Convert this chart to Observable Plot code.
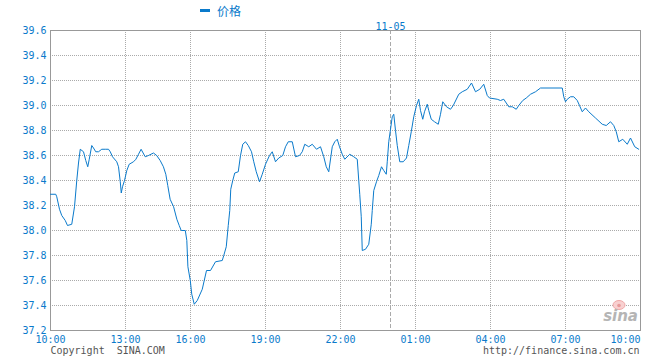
<!DOCTYPE html>
<html>
<head>
<meta charset="utf-8">
<script src="https://cdn.jsdelivr.net/npm/d3@7"></script>
<script src="https://cdn.jsdelivr.net/npm/@observablehq/plot@0.6"></script>
<style>
  html, body { margin: 0; padding: 0; background: #fff; }
</style>
</head>
<body>
<div id="chart"></div>
<script>
// Hours since 10:00 (first day) and price
const hours = [0,0.21,0.25,0.36,0.45,0.59,0.68,0.85,0.96,1.05,1.12,1.19,1.32,1.41,1.49,1.55,1.65,1.72,1.81,1.92,2.05,2.19,2.32,2.39,2.48,2.65,2.72,2.79,2.83,2.88,2.96,
3.06,3.17,3.37,3.48,3.60,3.72,3.91,4.06,4.29,4.44,4.60,4.75,4.86,4.95,5.06,5.22,5.37,5.48,5.57,5.76,5.83,5.88,5.99,
6.05,6.15,6.27,6.47,6.64,6.80,7.00,7.27,7.33,7.43,7.51,7.57,7.61,7.69,7.77,7.91,8.00,8.09,8.20,8.31,8.44,8.53,8.63,8.76,8.87,9.00,9.16,9.27,9.40,9.53,9.69,9.80,9.91,10.07,10.20,10.36,10.47,10.57,10.73,10.87,11.04,11.20,11.33,11.43,11.53,11.67,11.77,11.87,11.96,12.07,12.17,12.37,12.53,12.67,12.73,12.77,12.83,12.87,13.00,13.13,13.23,13.27,13.33,13.44,13.53,13.64,13.73,13.83,13.87,13.93,14.00,14.07,14.13,14.20,14.27,14.37,14.51,14.64,14.73,14.83,14.93,15.04,15.13,15.20,15.29,15.36,15.47,15.53,15.63,15.76,15.91,16.00,16.09,16.24,16.40,16.51,16.73,16.87,17.07,17.24,17.40,17.57,17.73,17.87,17.96,18.27,18.40,18.53,18.63,18.73,18.87,19.03,19.13,19.29,19.43,19.60,19.80,20.00,20.87,20.93,21.00,21.07,21.20,21.33,21.47,21.56,21.67,21.80,21.93,22.20,22.47,22.63,22.80,22.93,23.03,23.13,23.29,23.47,23.60,23.77,23.93];
const prices = [38.29,38.29,38.27,38.17,38.12,38.08,38.04,38.05,38.19,38.40,38.54,38.65,38.63,38.56,38.51,38.57,38.68,38.66,38.63,38.63,38.65,38.65,38.65,38.63,38.59,38.55,38.51,38.39,38.30,38.35,38.40,
38.48,38.53,38.55,38.57,38.61,38.65,38.59,38.60,38.62,38.60,38.56,38.51,38.45,38.36,38.25,38.19,38.09,38.04,38.00,38.00,37.92,37.71,37.60,
37.49,37.41,37.44,37.53,37.68,37.68,37.75,37.76,37.80,37.87,38.04,38.16,38.33,38.40,38.46,38.47,38.60,38.69,38.71,38.68,38.63,38.55,38.47,38.39,38.45,38.53,38.60,38.63,38.55,38.58,38.60,38.67,38.71,38.71,38.59,38.60,38.63,38.69,38.67,38.69,38.65,38.67,38.59,38.51,38.47,38.67,38.71,38.73,38.67,38.61,38.57,38.61,38.59,38.57,38.40,38.29,38.11,37.84,37.85,37.89,38.05,38.16,38.32,38.39,38.44,38.51,38.48,38.45,38.55,38.71,38.81,38.91,38.93,38.80,38.68,38.55,38.55,38.58,38.68,38.79,38.91,39.00,39.05,38.96,38.89,38.95,39.01,38.96,38.89,38.87,38.85,38.93,39.03,38.99,38.97,39.00,39.09,39.11,39.13,39.18,39.11,39.13,39.17,39.08,39.06,39.05,39.04,39.05,39.02,38.99,38.99,38.97,39.00,39.04,39.06,39.09,39.11,39.14,39.14,39.07,39.03,39.05,39.07,39.07,39.04,39.00,38.95,38.98,38.95,38.90,38.85,38.84,38.87,38.84,38.79,38.71,38.73,38.69,38.74,38.67,38.65];

const tickHours = [0, 3, 6, 9, 12, 15, 18, 21, 24];
const tickLabels = ["10:00","13:00","16:00","19:00","22:00","01:00","04:00","07:00","10:00"];
const yTicks = [37.2, 37.4, 37.6, 37.8, 38.0, 38.2, 38.4, 38.6, 38.8, 39.0, 39.2, 39.4, 39.6];
const dayBreak = [14];
const dayLabel = "11-05";
const seriesName = "价格";
const copyrightText = "Copyright  SINA.COM";
const urlText = "http://finance.sina.com.cn";

const data = hours.map((h, i) => ({h, p: prices[i]}));
const BLUE = "#0a7acb";
const GRID = "#aaaaaa";
const labelOf = d => tickLabels[tickHours.indexOf(d)];

function legendMark() {
  const g = d3.create("svg:g");
  g.append("rect").attr("x", 200).attr("y", 9).attr("width", 10).attr("height", 3).attr("fill", BLUE);
  g.append("text").attr("x", 217).attr("y", 12).attr("dy", "0.35em").attr("text-anchor", "start")
    .attr("fill", BLUE).attr("font-size", 12).attr("font-family", "'Noto Sans CJK SC', sans-serif")
    .text(seriesName);
  return g.node();
}

function sinaMark() {
  const g = d3.create("svg:g");
  g.append("ellipse").attr("cx", 619).attr("cy", 305).attr("rx", 6).attr("ry", 4.5)
    .attr("fill", "#f8d0d0").attr("stroke", "#f0a8a8").attr("stroke-width", 1);
  g.append("circle").attr("cx", 619).attr("cy", 305.5).attr("r", 1.8).attr("fill", "#e89a9a");
  g.append("text").attr("x", 638).attr("y", 321).attr("text-anchor", "end")
    .attr("fill", "#b5b5b5").attr("font-size", 15).attr("font-weight", "bold")
    .attr("font-style", "italic").attr("font-family", "'DejaVu Sans', sans-serif")
    .text("sina");
  return g.node();
}

const chart = Plot.plot({
  width: 660,
  height: 360,
  marginLeft: 50,
  marginRight: 20,
  marginTop: 30,
  marginBottom: 30,
  style: {fontFamily: "'DejaVu Sans Mono', monospace", fontSize: "10px", background: "#fff"},
  x: {type: "linear", domain: [0, 3, 6, 24], range: [50, 125, 190, 640], axis: null},
  y: {domain: [37.2, 39.6], axis: null},
  marks: [
    Plot.gridY(yTicks.slice(1, -1), {stroke: GRID, strokeOpacity: 1, strokeDasharray: "1,1"}),
    Plot.gridX(tickHours.slice(1, -1), {stroke: GRID, strokeOpacity: 1, strokeDasharray: "1,1"}),
    Plot.ruleX(dayBreak, {stroke: GRID, strokeOpacity: 1, strokeDasharray: "4,2"}),
    sinaMark,
    Plot.frame({stroke: "#999"}),
    Plot.line(data, {x: "h", y: "p", stroke: BLUE, strokeWidth: 1}),
    Plot.axisY(yTicks, {tickSize: 0, tickPadding: 4, tickFormat: d => d.toFixed(1), fill: BLUE, fontSize: 10, label: null}),
    Plot.text(tickHours.slice(0, -1), {x: d => d, frameAnchor: "bottom", dy: 12, text: labelOf, fill: BLUE, fontSize: 10}),
    Plot.text(tickHours.slice(-1), {x: d => d, frameAnchor: "bottom", dy: 12, textAnchor: "end", text: labelOf, fill: BLUE, fontSize: 10}),
    Plot.text(dayBreak, {x: d => d, frameAnchor: "top", dy: -8, text: () => dayLabel, fill: BLUE, fontSize: 10}),
    Plot.text([copyrightText], {frameAnchor: "bottom-left", dy: 23, textAnchor: "start", text: d => d, fill: "#555", fontSize: 10}),
    Plot.text([urlText], {frameAnchor: "bottom-right", dy: 23, dx: -1, textAnchor: "end", text: d => d, fill: "#555", fontSize: 10}),
    legendMark
  ]
});
document.getElementById("chart").appendChild(chart);
</script>
</body>
</html>
